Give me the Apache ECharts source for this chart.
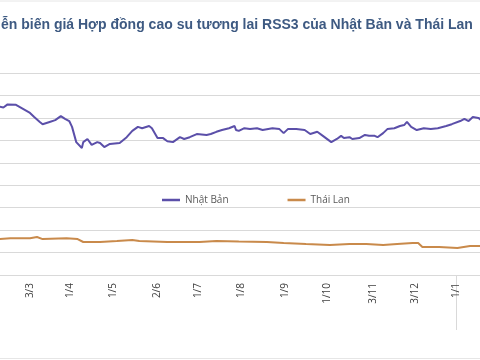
<!DOCTYPE html>
<html>
<head>
<meta charset="utf-8">
<script src="https://cdn.jsdelivr.net/npm/echarts@6/dist/echarts.min.js"></script>
<style>html,body{margin:0;padding:0;background:#fff;}#c{width:480px;height:360px;}</style>
</head>
<body>
<div id="c"></div>
<script>
const titleText = 'Diễn biến giá Hợp đồng cao su tương lai RSS3 của Nhật Bản và Thái Lan';
const seriesNames = ['Nhật Bản', 'Thái Lan'];

const japanDates = ['2022-02-09','2022-02-12','2022-02-15','2022-02-21','2022-02-26','2022-03-03','2022-03-06','2022-03-10','2022-03-12','2022-03-17','2022-03-21','2022-03-25','2022-03-28','2022-03-31','2022-04-02','2022-04-05','2022-04-09','2022-04-10','2022-04-13','2022-04-16','2022-04-20','2022-04-22','2022-04-25','2022-04-29','2022-05-06','2022-05-11','2022-05-15','2022-05-19','2022-05-22','2022-05-27','2022-05-29','2022-06-02','2022-06-06','2022-06-09','2022-06-13','2022-06-18','2022-06-21','2022-06-25','2022-06-30','2022-07-07','2022-07-10','2022-07-14','2022-07-18','2022-07-23','2022-07-27','2022-07-28','2022-07-30','2022-08-03','2022-08-07','2022-08-12','2022-08-16','2022-08-23','2022-08-28','2022-08-31','2022-09-03','2022-09-09','2022-09-15','2022-09-19','2022-09-24','2022-09-28','2022-10-04','2022-10-08','2022-10-11','2022-10-13','2022-10-17','2022-10-19','2022-10-24','2022-10-28','2022-10-31','2022-11-04','2022-11-06','2022-11-10','2022-11-13','2022-11-18','2022-11-22','2022-11-25','2022-11-27','2022-11-30','2022-12-04','2022-12-09','2022-12-14','2022-12-19','2022-12-25','2022-12-29','2023-01-04','2023-01-07','2023-01-10','2023-01-13','2023-01-17','2023-01-19'];
const japanValues = [375,373,380,379,370,361,352,341,336,341,345,354,348,343,330,296,283,296,303,290,296,294,285,292,294,307,321,330,327,332,327,305,305,298,296,307,303,307,314,312,314,319,323,327,332,323,321,327,325,327,323,327,325,316,325,325,323,314,319,310,296,303,310,305,307,303,305,312,310,310,307,316,325,327,332,334,341,330,323,327,325,327,332,336,343,348,343,352,350,345];

const thaiDates = ['2022-02-09','2022-02-17','2022-03-03','2022-03-08','2022-03-12','2022-03-29','2022-04-06','2022-04-10','2022-04-22','2022-05-04','2022-05-15','2022-05-20','2022-06-09','2022-06-27','2022-07-02','2022-07-14','2022-07-30','2022-08-19','2022-08-31','2022-09-16','2022-10-03','2022-10-17','2022-10-29','2022-11-10','2022-11-20','2022-12-01','2022-12-05','2022-12-08','2022-12-20','2023-01-02','2023-01-11','2023-01-19'];
const thaiValues = [80,82,82,84.7,80,82,80,73.5,73.5,75.7,78,75.7,73.5,73.5,73.5,75.7,74.6,73.5,71.3,69,66.8,69,69,66.8,69,71.3,71.3,62.4,62.4,60.1,64.6,64.6];

const tickLabels = ['2022-03-03','2022-04-01','2022-05-01','2022-06-02','2022-07-01','2022-08-01','2022-09-01','2022-10-01','2022-11-03','2022-12-03','2023-01-01'];
const yearTick = ['2023-01-01'];

const toTs = s => new Date(s + 'T00:00:00').getTime();
const pair = (ds, vs) => ds.map((d, i) => [toTs(d), vs[i]]);

const chart = echarts.init(document.getElementById('c'));
chart.setOption({
  animation: false,
  backgroundColor: '#ffffff',
  title: {
    text: titleText,
    left: -18, top: 13,
    textStyle: { fontFamily: 'Liberation Sans', fontWeight: 'bold', fontSize: 14, color: '#3e5a82' }
  },
  legend: {
    data: seriesNames,
    left: 157, top: 190,
    icon: 'rect',
    itemWidth: 18, itemHeight: 2.5, itemGap: 59,
    textStyle: { fontFamily: 'Open Sans', fontSize: 10, color: '#595959' }
  },
  graphic: [
    { type: 'line', shape: { x1: 0, y1: 1, x2: 480, y2: 1 }, style: { stroke: '#e6e6e6', lineWidth: 1 } },
    { type: 'line', shape: { x1: 0, y1: 358.5, x2: 480, y2: 358.5 }, style: { stroke: '#e6e6e6', lineWidth: 1 } }
  ],
  grid: { left: 0, right: 0, top: 73, bottom: 85 },
  xAxis: {
    type: 'value',
    min: new Date('2022-02-09T14:10:00').getTime(),
    max: new Date('2023-01-18T03:00:00').getTime(),
    axisLine: { show: true, lineStyle: { color: '#d9d9d9' } },
    axisTick: { show: true, customValues: yearTick.map(toTs), length: 55, lineStyle: { color: '#d9d9d9' } },
    splitLine: { show: false },
    axisLabel: {
      customValues: tickLabels.map(toTs),
      rotate: 90, margin: 8,
      fontFamily: 'Open Sans', fontSize: 10, color: '#404040',
      formatter: v => { const d = new Date(v); return d.getDate() + '/' + (d.getMonth() + 1); }
    }
  },
  yAxis: {
    type: 'value', min: 0, max: 450, interval: 50,
    axisLabel: { show: false }, axisLine: { show: false }, axisTick: { show: false },
    splitLine: { lineStyle: { color: '#d9d9d9' } }
  },
  series: [
    { name: seriesNames[0], type: 'line', data: pair(japanDates, japanValues), symbol: 'none', lineStyle: { color: '#5b4fa9', width: 2 }, itemStyle: { color: '#5b4fa9' } },
    { name: seriesNames[1], type: 'line', data: pair(thaiDates, thaiValues), symbol: 'none', lineStyle: { color: '#c98a4b', width: 2 }, itemStyle: { color: '#c98a4b' } }
  ]
});
</script>
</body>
</html>
